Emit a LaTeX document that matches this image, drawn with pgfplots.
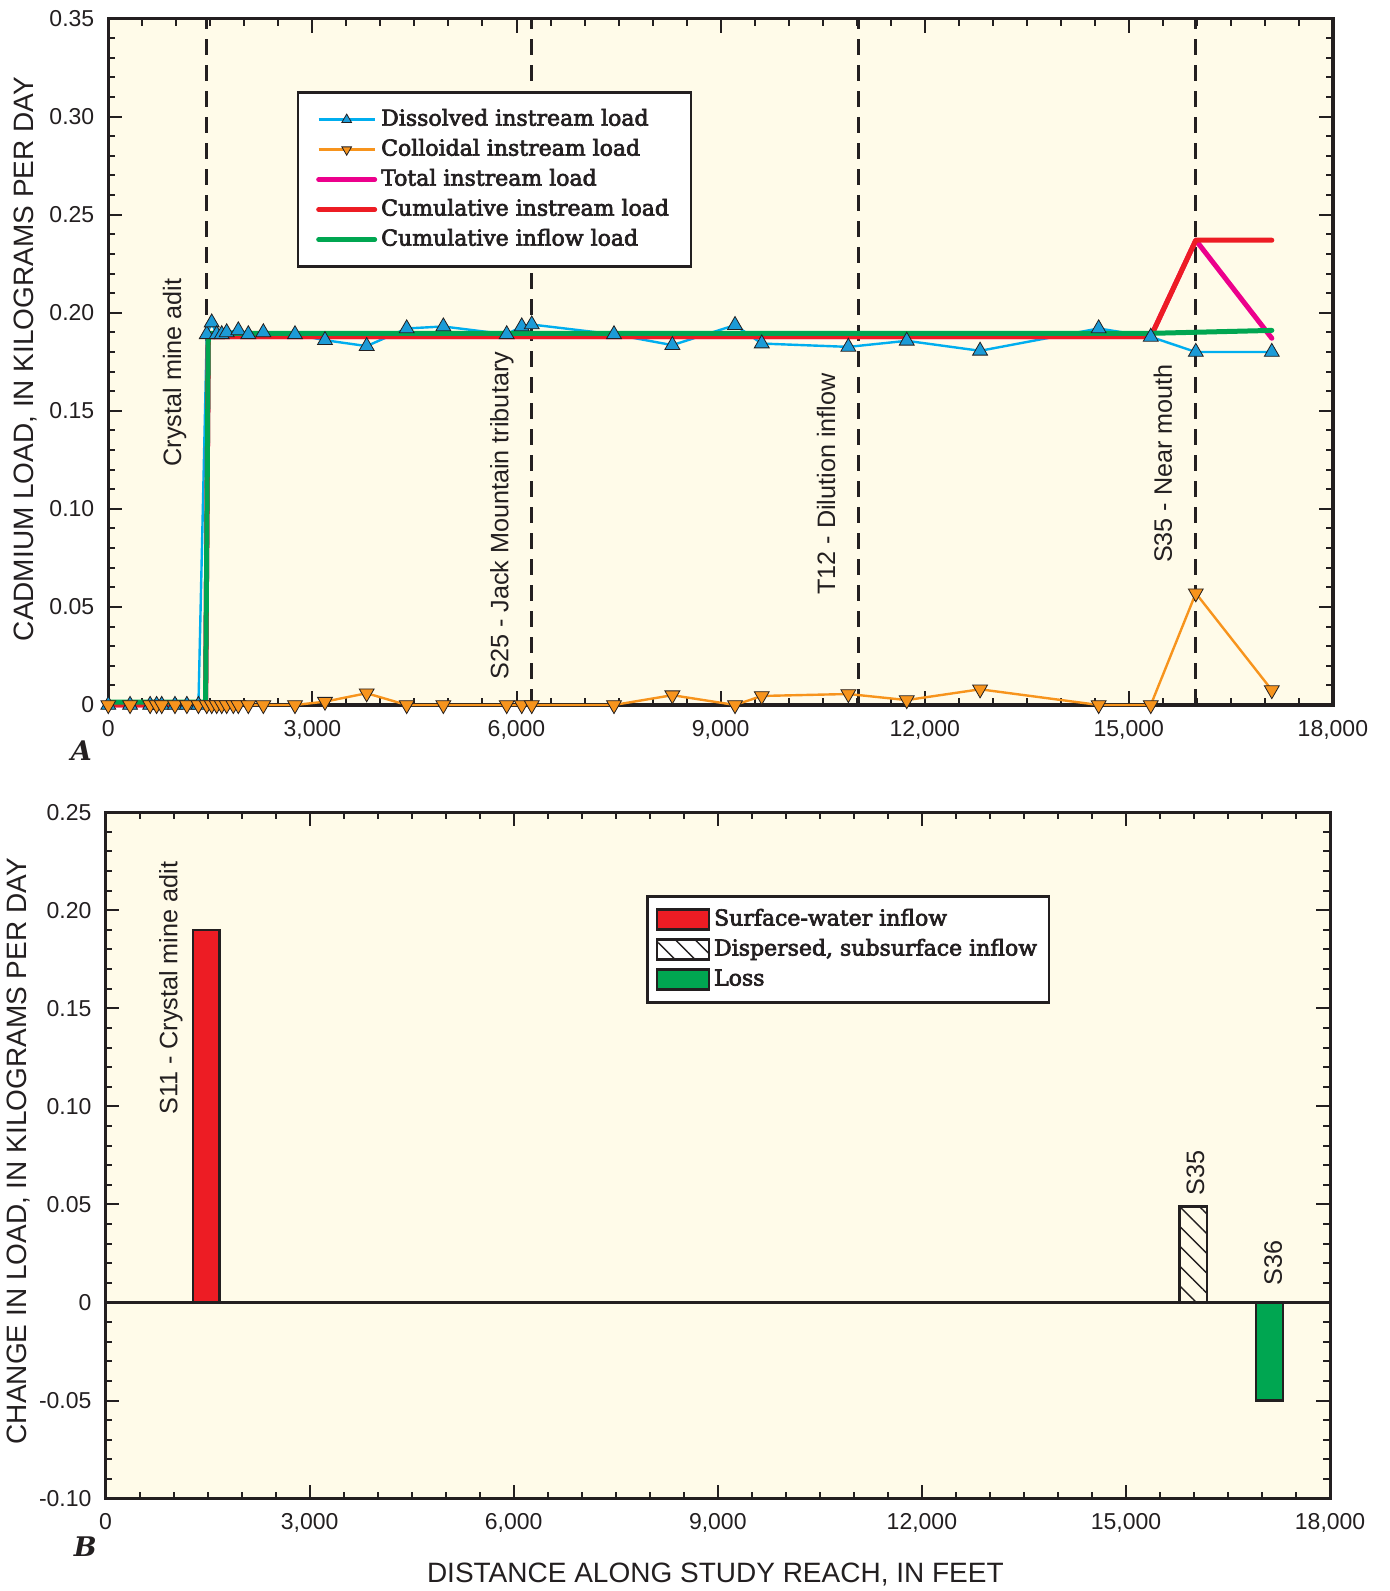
\documentclass[border=0pt]{standalone}
\usepackage{fontspec}
\setmainfont{Liberation Sans}
\newfontfamily\legfont{DejaVu Serif}[FakeBold=3]
\newfontfamily\panelfont{DejaVu Serif}
\usepackage{pgfplots}
\pgfplotsset{compat=1.18}
\usetikzlibrary{patterns.meta}
\definecolor{cream}{RGB}{255,251,233}
\definecolor{dblue}{RGB}{0,174,239}
\definecolor{mblue}{RGB}{28,155,215}
\definecolor{corange}{RGB}{247,148,29}
\definecolor{cmag}{RGB}{236,0,140}
\definecolor{cred}{RGB}{237,28,36}
\definecolor{cgreen}{RGB}{0,166,81}
\definecolor{ink}{RGB}{35,31,32}

\pgfplotsset{
 panel/.style={
  scale only axis, width=612.3pt, height=343.2pt, anchor=south west,
  xmin=0, xmax=18000, scaled x ticks=false, scaled y ticks=false,
  xtick={0,3000,6000,9000,12000,15000,18000},
  xticklabels={0,{3,000},{6,000},{9,000},{12,000},{15,000},{18,000}},
  minor x tick num=5, minor y tick num=4,
  tick align=inside, tick pos=both,
  major tick length=7pt, minor tick length=3.5pt,
  every tick/.style={line width=1pt, ink},
  axis line style={line width=1.6pt, ink},
  axis background/.style={fill=cream},
  tick label style={font=\fontsize{11.5}{13}\selectfont, text=ink},
  xticklabel style={yshift=-4pt},
  yticklabel style={xshift=-3.5pt},
  label style={font=\fontsize{14}{16}\selectfont, text=ink},
  clip=false,
 },
 vdash/.style={ink, dash pattern=on 8pt off 5pt, line width=1.4pt, forget plot},
}
\tikzset{
 annot/.style={rotate=90, anchor=base west, inner sep=0pt, font=\fontsize{12.6}{14}\selectfont, text=ink},
 panellab/.style={font=\panelfont\bfseries\itshape\fontsize{13.5}{15}\selectfont, text=ink},
}

\begin{document}
\begin{tikzpicture}
\path[use as bounding box] (0,0) rectangle (694.5pt,795.5pt);

% ---------------- Panel A ----------------
\begin{axis}[panel, at={(54.15pt,443pt)},
  ymin=0, ymax=0.35,
  ytick={0,0.05,0.1,0.15,0.2,0.25,0.3,0.35},
  yticklabels={0,0.05,0.10,0.15,0.20,0.25,0.30,0.35},
  ylabel={CADMIUM LOAD, IN KILOGRAMS PER DAY},
  ylabel style={at={(axis description cs:-0.068,0.504)}, anchor=center},
  legend style={at={(axis description cs:0.154,0.894)}, anchor=north west,
    draw=ink, line width=1.3pt, fill=white,
    font=\legfont\fontsize{11}{13}\selectfont, text=ink,
    inner xsep=9pt, inner ysep=6pt, row sep=0pt,
    nodes={text height=8.5pt, text depth=2.5pt, inner ysep=2pt}},
  legend cell align=left,
  legend image code/.code={\draw[mark repeat=2,mark phase=2,#1, every mark/.append style={scale=0.65}] plot coordinates {(0pt,0pt) (14pt,0pt) (28pt,0pt)};},
]
\addplot[vdash] coordinates {(1440,0)(1440,0.35)};
\addplot[vdash] coordinates {(6224,0)(6224,0.35)};
\addplot[vdash] coordinates {(11025,0)(11025,0.35)};
\addplot[vdash] coordinates {(15985,0)(15985,0.35)};

\addplot[dblue, line width=1.2pt, mark=triangle*, mark size=4.3pt,
  mark options={fill=mblue, draw=ink, line width=0.4pt, solid}] coordinates {
 (0,0)(320,0)(615,0)(710,0)(785,0)(980,0)(1155,0)(1325,0)
 (1447,0.189)(1520,0.195)(1593,0.189)(1667,0.189)(1740,0.190)(1911,0.191)
 (2058,0.189)(2279,0.190)(2744,0.189)(3185,0.186)(3798,0.183)(4386,0.192)
 (4925,0.193)(5856,0.189)(6077,0.193)(6224,0.194)(7433,0.189)(8291,0.1835)
 (9212,0.1937)(9605,0.1843)(10878,0.1826)(11736,0.1857)(12814,0.1806)
 (14557,0.192)(15323,0.1877)(15985,0.180)(17102,0.180)};
\addlegendentry{Dissolved instream load}

\addplot[corange, line width=1.2pt, mark=triangle*, mark size=4.3pt,
  mark options={rotate=180, fill=corange, draw=ink, line width=0.4pt, solid}] coordinates {
 (0,0)(320,0)(615,0)(710,0)(785,0)(980,0)(1155,0)(1325,0)
 (1447,0)(1520,0)(1593,0)(1667,0)(1740,0)(1838,0)(1911,0)(2058,0)(2279,0)
 (2744,0)(3185,0.0017)(3798,0.006)(4386,0)(4925,0)(5856,0)(6077,0)(6224,0)
 (7433,0)(8291,0.005)(9212,0)(9605,0.0046)(10878,0.0056)(11736,0.0025)
 (12814,0.008)(14557,0)(15323,0)(15985,0.057)(17102,0.0076)};
\addlegendentry{Colloidal instream load}

\addplot[cmag, line width=2.5pt, line join=round, line cap=round] coordinates {
 (0,0)(1430,0)(1470,0.1878)(15323,0.1878)(15985,0.237)(17102,0.187)};
\addlegendentry{Total instream load}

\addplot[cred, line width=2.5pt, line join=round, line cap=round] coordinates {
 (0,0)(1430,0)(1470,0.1878)(15323,0.1878)(15985,0.237)(17102,0.237)};
\addlegendentry{Cumulative instream load}

\addplot[cgreen, line width=2.5pt, line join=round, line cap=round] coordinates {
 (0,0.0015)(1430,0.0015)(1470,0.1895)(15323,0.1895)(17102,0.191)};
\addlegendentry{Cumulative inflow load}

\node[annot] at (axis cs:1069,0.1215) {Crystal mine adit};
\node[annot] at (axis cs:5880,0.0127) {S25 - Jack Mountain tributary};
\node[annot] at (axis cs:10682,0.056) {T12 - Dilution inflow};
\node[annot] at (axis cs:15632,0.0722) {S35 - Near mouth};
\node[panellab] at (axis description cs:-0.022,-0.067) {A};
\end{axis}

% ---------------- Panel B ----------------
\begin{axis}[panel, at={(52.75pt,46.2pt)},
  ymin=-0.10, ymax=0.25,
  ytick={-0.1,-0.05,0,0.05,0.1,0.15,0.2,0.25},
  yticklabels={-0.10,-0.05,0,0.05,0.10,0.15,0.20,0.25},
  ylabel={CHANGE IN LOAD, IN KILOGRAMS PER DAY},
  ylabel style={at={(axis description cs:-0.0713,0.506)}, anchor=center},
  xlabel={DISTANCE ALONG STUDY REACH, IN FEET},
  xlabel style={at={(axis description cs:0.498,-0.111)}, anchor=center},
  legend style={at={(axis description cs:0.4417,0.879)}, anchor=north west,
    draw=ink, line width=1.3pt, fill=white,
    font=\legfont\fontsize{11}{13}\selectfont, text=ink,
    inner xsep=4pt, inner ysep=4pt, row sep=0pt,
    nodes={text height=8.5pt, text depth=2.5pt, inner ysep=2pt}},
  legend cell align=left,
  legend image code/.code={\draw[#1] (0pt,-5pt) rectangle (26pt,5pt);},
]
\addplot[ink, line width=1.5pt, forget plot] coordinates {(0,0)(18000,0)};
\addplot[fill=cred, draw=ink, line width=1.2pt] coordinates {(1282,0)(1282,0.19)(1673,0.19)(1673,0)} \closedcycle;
\addlegendentry{Surface-water inflow}
\addplot[pattern={Lines[angle=-45,distance=7pt,line width=0.7pt]}, pattern color=ink, draw=ink, line width=1.2pt] coordinates {(15785,0)(15785,0.049)(16187,0.049)(16187,0)} \closedcycle;
\addlegendentry{Dispersed, subsurface inflow}
\addplot[fill=cgreen, draw=ink, line width=1.2pt] coordinates {(16908,0)(16908,-0.05)(17305,-0.05)(17305,0)} \closedcycle;
\addlegendentry{Loss}

\node[annot] at (axis cs:1055,0.0955) {S11 - Crystal mine adit};
\node[annot] at (axis cs:16147,0.0546) {S35};
\node[annot] at (axis cs:17290,0.0087) {S36};
\node[panellab] at (axis description cs:-0.0166,-0.0706) {B};
\end{axis}
\end{tikzpicture}
\end{document}
